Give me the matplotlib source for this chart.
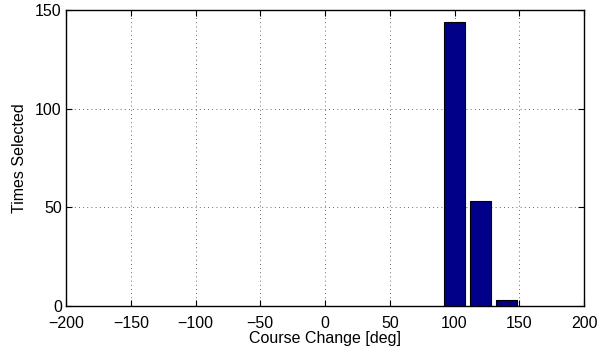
import matplotlib
matplotlib.use("Agg")
import matplotlib.pyplot as plt

course_change = [100, 120, 140]
times_selected = [144, 53, 3]
xticks = [-200, -150, -100, -50, 0, 50, 100, 150, 200]
yticks = [0, 50, 100, 150]

plt.rcParams['font.family'] = ['Liberation Sans', 'DejaVu Sans']
fig = plt.figure(figsize=(6.08, 3.49), dpi=100)
ax = fig.add_axes([0.1086, 0.1232, 0.852, 0.848])
ax.bar(course_change, times_selected, width=16, color='#000088', edgecolor='black', linewidth=0.8, zorder=3)
ax.set_xlim(-200, 200)
ax.set_ylim(0, 150)
ax.set_xticks(xticks)
ax.set_yticks(yticks)
ax.set_xticklabels([str(t).replace('-', '\u2212') for t in xticks])
ax.grid(True, linestyle=(0, (1, 4)), color='#333333', linewidth=0.6, zorder=0)
ax.tick_params(direction='in', top=True, right=True, labelsize=11.5, length=4)
ax.tick_params(axis='x', pad=7)
ax.tick_params(axis='y', pad=3)
for s in ax.spines.values():
    s.set_linewidth(1.0)
ax.set_xlabel('Course Change [deg]', fontsize=11.5, labelpad=0)
ax.set_ylabel('Times Selected', fontsize=11.5, labelpad=6)
fig.savefig('out.png', dpi=100)
